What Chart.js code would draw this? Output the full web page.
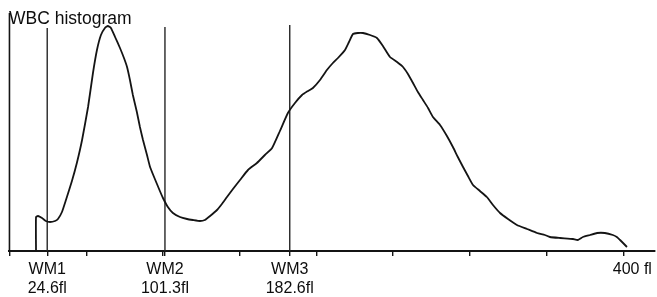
<!DOCTYPE html>
<html>
<head>
<meta charset="utf-8">
<script src="https://cdn.jsdelivr.net/npm/chart.js@4"></script>
<style>
  html, body { margin: 0; padding: 0; background: #ffffff; }
  canvas { display: block; }
</style>
</head>
<body>
<canvas id="c" width="657" height="297"></canvas>
<script>
// Particle volume (fl) and relative count
const volumeFl = [17.3, 17.3, 18.6, 21.2, 23.7, 26.4, 29.7, 31.6, 34.2, 36.8, 40.7, 43.9, 47.3, 51.2, 54.4, 57.0,
  59.6, 62.2, 64.1, 66.1, 68.8, 72.0, 74.6, 76.6, 78.5, 80.4, 83.0, 85.0, 87.0, 89.6, 91.6, 94.2, 96.1, 98.0,
  100.0, 103.2, 106.5, 111.1, 115.7, 119.5, 124.1, 127.3, 130.7, 135.2, 138.4, 141.7, 145.6, 150.2, 155.4,
  161.2, 166.4, 171.1, 176.2, 181.4, 186.0, 190.6, 194.5, 197.7, 202.3, 206.8, 210.7, 214.0, 218.6, 221.2,
  223.8, 227.0, 230.3, 234.9, 239.4, 243.3, 247.9, 252.5, 256.4, 259.6, 262.9, 266.1, 269.4, 272.7, 275.9,
  280.5, 285.0, 288.9, 292.1, 295.5, 298.7, 302.0, 306.5, 311.0, 315.0, 319.6, 324.8, 330.6, 337.2, 343.7,
  348.8, 352.1, 358.7, 367.1, 370.3, 373.6, 378.2, 382.8, 387.9, 393.1, 395.7, 397.8, 400.4, 402.3];
const cellCount = [0, 34, 35, 33, 30, 29, 30, 32, 39, 51, 70, 88, 111, 144, 178, 201,
  216, 223, 225, 223, 214, 203, 193, 184, 171, 156, 139, 124, 111, 96, 84, 74, 67, 60,
  53, 44, 38, 34, 32, 31, 30, 31, 35, 41, 47, 54, 62, 71, 81,
  88, 96, 103, 120, 138, 148, 156, 160, 163, 171, 181, 188, 193, 201, 209,
  217, 218, 218, 216, 213, 205, 194, 189, 184, 177, 168, 159, 151, 143, 134,
  126, 115, 104, 94, 84, 75, 66, 60, 54, 46, 38, 32, 26, 22, 18,
  16, 14, 13, 12, 11, 14, 16, 18, 18, 16, 14, 11, 7, 4];

// Discriminator markers
const wmNames = ['WM1', 'WM2', 'WM3'];
const wmValues = [24.6, 101.3, 182.6];
const wmTops = [223, 224, 226];
const frameTop = 238;

// Axis ticks
const tickValues = [0, 24.6, 50, 100, 101.3, 150, 182.6, 200, 250, 300, 350, 400];
const endLabel = '    400 fl';
const titleText = 'WBC histogram';

const ink = '#141414';

const curve = volumeFl.map((v, i) => ({ x: v, y: cellCount[i] }));

const datasets = [{
  data: curve,
  borderColor: ink,
  borderWidth: 1.8,
  pointRadius: 0,
  tension: 0.15,
  fill: false,
  clip: false
}, {
  data: [{ x: 0, y: 0 }, { x: 0, y: frameTop }],
  borderColor: ink,
  borderWidth: 1.6,
  pointRadius: 0,
  clip: false
}];
wmValues.forEach((v, i) => {
  datasets.push({
    data: [{ x: v, y: 0 }, { x: v, y: wmTops[i] }],
    borderColor: '#262626',
    borderWidth: 1.4,
    pointRadius: 0,
    clip: false
  });
});

const titlePlugin = {
  id: 'histTitle',
  afterDraw(chart) {
    const ctx = chart.ctx;
    ctx.save();
    ctx.fillStyle = '#0d0d0d';
    ctx.font = '17.5px "Liberation Sans", Arial, sans-serif';
    ctx.textAlign = 'left';
    ctx.textBaseline = 'alphabetic';
    ctx.fillText(titleText, 9, 24);
    ctx.restore();
  }
};

new Chart(document.getElementById('c'), {
  type: 'line',
  data: { datasets },
  plugins: [titlePlugin],
  options: {
    responsive: false,
    animation: false,
    devicePixelRatio: 1,
    layout: { padding: { left: 9, right: 2, top: 10, bottom: 0 } },
    plugins: { legend: { display: false }, tooltip: { enabled: false }, title: { display: false } },
    scales: {
      x: {
        type: 'linear',
        min: -0.3,
        max: 420.5,
        afterBuildTicks(scale) {
          scale.ticks = tickValues.map(v => ({ value: v }));
        },
        afterFit(scale) { scale.height = 46; },
        border: { display: true, color: ink, width: 2 },
        grid: { display: true, drawOnChartArea: false, drawTicks: true, tickLength: 5, color: ink, lineWidth: 1.4 },
        ticks: {
          autoSkip: false,
          maxRotation: 0,
          minRotation: 0,
          padding: 5,
          color: '#0d0d0d',
          font: { family: '"Liberation Sans", Arial, sans-serif', size: 16, lineHeight: 1.13 },
          callback(value) {
            const i = wmValues.indexOf(value);
            if (i >= 0) return [wmNames[i], value.toFixed(1) + 'fl'];
            if (value === 400) return endLabel;
            return '';
          }
        }
      },
      y: {
        type: 'linear',
        display: false,
        min: 0,
        max: 241
      }
    }
  }
});
</script>
</body>
</html>
